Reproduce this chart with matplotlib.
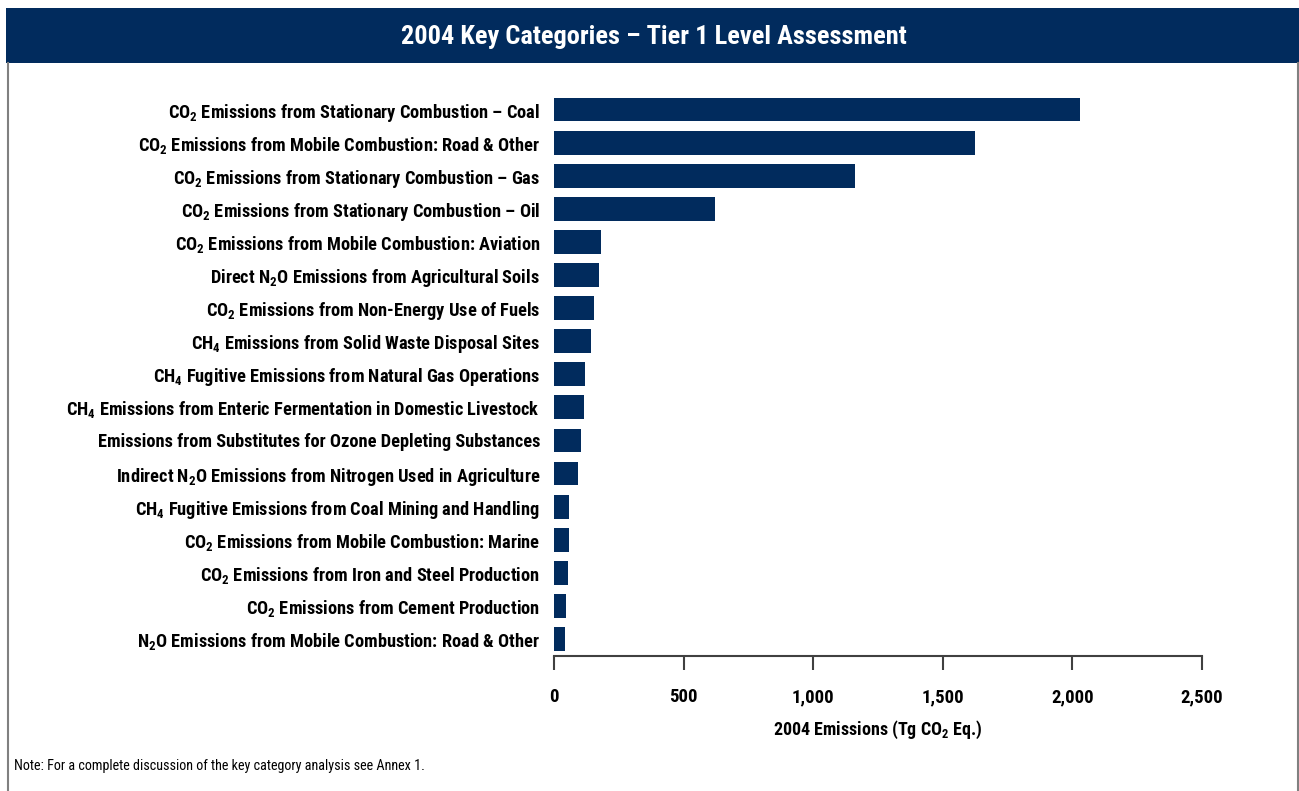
import matplotlib.pyplot as plt
from matplotlib.patches import Rectangle
from matplotlib.lines import Line2D
from matplotlib.ticker import FuncFormatter

# ---- condensed bold look (falls back to Liberation Sans) ----
plt.rcParams['font.family'] = ['Roboto Condensed', 'Archivo Narrow', 'Liberation Sans', 'DejaVu Sans']
plt.rcParams['mathtext.fontset'] = 'custom'
plt.rcParams['mathtext.rm'] = 'Roboto Condensed'
plt.rcParams['mathtext.bf'] = 'Roboto Condensed:bold'

NAVY = '#012B5D'

categories = [
    r'CO$_\mathbf{2}$ Emissions from Stationary Combustion – Coal',
    r'CO$_\mathbf{2}$ Emissions from Mobile Combustion: Road & Other',
    r'CO$_\mathbf{2}$ Emissions from Stationary Combustion – Gas',
    r'CO$_\mathbf{2}$ Emissions from Stationary Combustion – Oil',
    r'CO$_\mathbf{2}$ Emissions from Mobile Combustion: Aviation',
    r'Direct N$_\mathbf{2}$O Emissions from Agricultural Soils',
    r'CO$_\mathbf{2}$ Emissions from Non-Energy Use of Fuels',
    r'CH$_\mathbf{4}$ Emissions from Solid Waste Disposal Sites',
    r'CH$_\mathbf{4}$ Fugitive Emissions from Natural Gas Operations',
    r'CH$_\mathbf{4}$ Emissions from Enteric Fermentation in Domestic Livestock',
    'Emissions from Substitutes for Ozone Depleting Substances',
    r'Indirect N$_\mathbf{2}$O Emissions from Nitrogen Used in Agriculture',
    r'CH$_\mathbf{4}$ Fugitive Emissions from Coal Mining and Handling',
    r'CO$_\mathbf{2}$ Emissions from Mobile Combustion: Marine',
    r'CO$_\mathbf{2}$ Emissions from Iron and Steel Production',
    r'CO$_\mathbf{2}$ Emissions from Cement Production',
    r'N$_\mathbf{2}$O Emissions from Mobile Combustion: Road & Other',
]
emissions = [2030, 1625, 1160, 622, 181, 174, 154, 143, 120, 116, 104, 93, 58, 58, 54, 46, 42]
xticks = [0, 500, 1000, 1500, 2000, 2500]

fig = plt.figure(figsize=(12.99, 7.91), dpi=100)

# title band
fig.patches.append(Rectangle((6 / 1299, 1 - 63 / 791), 1 - 6 / 1299, 55 / 791,
                             transform=fig.transFigure, facecolor=NAVY, edgecolor='none'))
fig.text(0.503, 1 - 37 / 791, '2004 Key Categories – Tier 1 Level Assessment',
         color='white', fontsize=19, fontweight='bold', ha='center', va='center')

# side frame lines
fig.lines.append(Line2D([8 / 1299, 8 / 1299], [0, 1 - 63 / 791], transform=fig.transFigure,
                        color='#808080', linewidth=1.5))
fig.lines.append(Line2D([1298 / 1299, 1298 / 1299], [0, 1 - 63 / 791], transform=fig.transFigure,
                        color='#808080', linewidth=1.5))

ax = fig.add_axes([554 / 1299, 1 - 656 / 791, 648 / 1299, (656 - 80) / 791])
ypos = list(range(len(categories)))
ax.barh(ypos, emissions, height=0.72, color=NAVY)
ax.set_ylim(16.514, -0.894)
ax.set_xlim(0, 2500)

ax.set_yticks(ypos)
ax.set_yticklabels(categories, fontsize=13.2, fontweight='bold')
ax.tick_params(axis='y', length=0, pad=10)

ax.set_xticks(xticks)
ax.xaxis.set_major_formatter(FuncFormatter(lambda v, p: f'{int(v):,}'))
ax.tick_params(axis='x', length=10, width=1.5, color='#404040', pad=13, labelsize=13.5)
for lab in ax.get_xticklabels():
    lab.set_fontweight('bold')

for s in ['top', 'right', 'left']:
    ax.spines[s].set_visible(False)
ax.spines['bottom'].set_color('#404040')
ax.spines['bottom'].set_linewidth(1.5)

ax.set_xlabel(r'2004 Emissions (Tg CO$_\mathbf{2}$ Eq.)', fontsize=13, fontweight='bold', labelpad=9)

fig.text(14 / 1299, 1 - 766 / 791,
         'Note: For a complete discussion of the key category analysis see Annex 1.',
         fontsize=10.2, ha='left', va='center')

fig.savefig('out.png', dpi=100)
